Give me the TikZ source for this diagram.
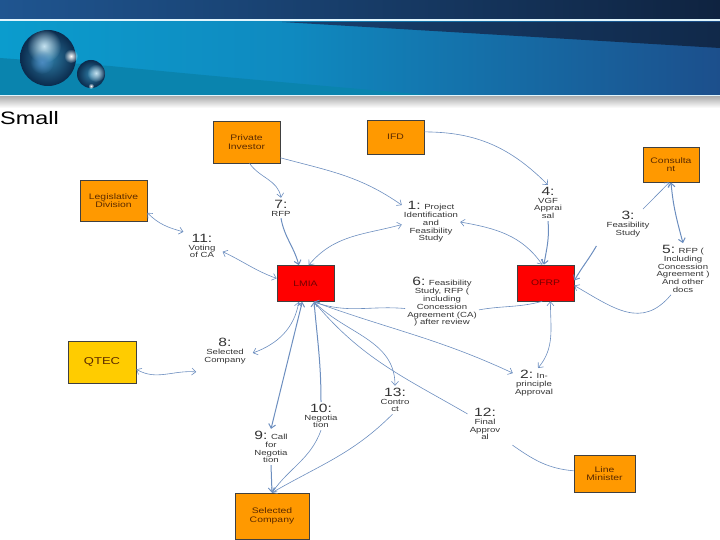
\documentclass[tikz,border=0pt]{standalone}
\usepackage{fontspec}
\setmainfont[FakeStretch=1.3]{Liberation Sans}
\usepackage{xcolor}
\usetikzlibrary{arrows.meta,fadings}
\definecolor{linkblue}{HTML}{6C8EBF}
\definecolor{boxorange}{HTML}{FF9900}
\definecolor{boxyellow}{HTML}{FFCC00}
\definecolor{boxred}{HTML}{FF0000}
\definecolor{inkbrown}{HTML}{5A2A00}
\definecolor{topleft}{HTML}{1F5590}
\definecolor{topright}{HTML}{0F2340}
\definecolor{bandleft}{HTML}{0B9CCD}
\definecolor{bandmid}{HTML}{0F8AC0}
\definecolor{bandright}{HTML}{1C4F8C}
\definecolor{wedgeblue}{HTML}{17406F}
\definecolor{swooshblue}{HTML}{0A84AE}
\definecolor{balldark}{HTML}{0A2A4C}
\definecolor{ballmid}{HTML}{2F7FA8}
\definecolor{balllight}{HTML}{C4E2F0}
\tikzfading[name=softglow,inner color=transparent!0,outer color=transparent!100]

\begin{document}
\begin{tikzpicture}[x=1pt,y=1pt,
    every node/.style={font=\fontsize{7.4}{7.8}\selectfont},
    actor/.style={draw=black!75,line width=.7pt,fill=boxorange,align=center,inner sep=1pt,text=inkbrown,font=\fontsize{8}{8.4}\selectfont},
    office/.style={actor,fill=boxred,text=red!45!black},
    step label/.style={align=center,inner sep=2pt,text=black!80},
    link/.style={draw=linkblue,line width=.6pt,-{Straight Barb[length=4pt,width=7pt]}},
    twoway/.style={link,{Straight Barb[length=4pt,width=7pt]}-{Straight Barb[length=4pt,width=7pt]}},
    plain link/.style={draw=linkblue,line width=.6pt},
    heavy/.style={line width=1pt},
    glow/.style={path fading=softglow}]
  \useasboundingbox (0,0) rectangle (720,-540);
  % page header
  \shade[left color=topleft,right color=topright] (0,0) rectangle (720,-19);
  \fill[cyan!12!white] (0,-19) rectangle (720,-22);
  \shade[left color=bandleft,right color=bandmid] (0,-22) rectangle (290,-95);
  \shade[left color=bandmid,right color=bandright] (290,-22) rectangle (720,-95);
  \shade[left color=wedgeblue,right color=topright!80!wedgeblue] (282,-22) -- (720,-22) -- (720,-48) -- cycle;
  \fill[swooshblue] (0,-58) -- (110,-66) .. controls (230,-78) and (350,-88) .. (427,-95) -- (0,-95) -- cycle;
  \fill[cyan!12!white] (0,-95) rectangle (720,-97);
  \shade[top color=black!30,bottom color=white] (0,-97) rectangle (720,-108);
  % spheres
  \shade[inner color=ballmid,outer color=balldark] (48,-58) circle (28);
  \fill[balllight,glow] (44,-46) circle (17);
  \fill[teal!70!blue!70,glow] (42,-62) circle (12);
  \fill[white,glow] (71,-56) circle (7);
  \shade[inner color=ballmid,outer color=balldark] (91,-74) circle (14);
  \fill[balllight,glow] (96,-73) circle (9);
  \fill[white,glow] (91,-86) circle (3);
  % title
  \node[anchor=west,inner sep=0pt,font=\fontsize{18}{19}\selectfont] (title) at (0,-118) {Small};
  % boxes
  \node[actor,minimum width=67pt,minimum height=42pt] (investor) at (246.5,-142) {Private\\Investor};
  \node[actor,minimum width=57pt,minimum height=34pt] (ifd) at (395.5,-137) {IFD};
  \node[actor,minimum width=56pt,minimum height=35pt] (consultant) at (671,-164.5) {Consulta\\nt};
  \node[actor,minimum width=67pt,minimum height=41pt] (legislative) at (113.5,-200.5) {Legislative\\Division};
  \node[office,minimum width=57pt,minimum height=36pt] (lmia) at (305.5,-283.5) {LMIA};
  \node[office,minimum width=57pt,minimum height=36pt] (ofrp) at (545.5,-283) {OFRP};
  \node[actor,fill=boxyellow,minimum width=68pt,minimum height=42pt,font=\fontsize{10}{11}\selectfont] (qtec) at (102,-362) {QTEC};
  \node[actor,minimum width=74pt,minimum height=46pt] (selected) at (272,-516) {Selected\\Company};
  \node[actor,minimum width=61pt,minimum height=37pt] (minister) at (604.5,-473.5) {Line\\Minister};
  % numbered steps
  \node[step label] (stepone) at (431,-222) {{\large 1:} Project\\Identification\\and\\Feasibility\\Study};
  \node[step label] (steptwo) at (534,-383) {{\large 2:} In-\\principle\\Approval};
  \node[step label] (stepthree) at (628,-224) {{\large 3:}\\Feasibility\\Study};
  \node[step label] (stepfour) at (548,-203) {{\large 4:}\\VGF\\Apprai\\sal};
  \node[step label] (stepfive) at (683,-269) {{\large 5:} RFP (\\Including\\Concession\\Agreement )\\And other\\docs};
  \node[step label] (stepsix) at (442,-302) {{\large 6:} Feasibility\\Study, RFP (\\including\\Concession\\Agreement (CA)\\) after review};
  \node[step label] (stepseven) at (281,-208) {{\large 7:}\\RFP};
  \node[step label] (stepeight) at (225,-351) {{\large 8:}\\Selected\\Company};
  \node[step label] (stepnine) at (271,-447) {{\large 9:} Call\\for\\Negotia\\tion};
  \node[step label] (stepten) at (321,-416) {{\large 10:}\\Negotia\\tion};
  \node[step label] (stepeleven) at (202,-246) {{\large 11:}\\Voting\\of CA};
  \node[step label] (steptwelve) at (485,-424) {{\large 12:}\\Final\\Approv\\al};
  \node[step label] (stepthirteen) at (395,-400) {{\large 13:}\\Contro\\ct};
  % links around LMIA
  \draw[link] (investor.-25) to[out=-15,in=145] (stepone.150);
  \draw[link] (investor.-82) to[out=-55,in=100] (stepseven.north);
  \draw[link,heavy] (stepseven.south) to[out=-80,in=105] (lmia.110);
  \draw[twoway] (lmia.80) to[out=50,in=195] (stepone.185);
  \draw[twoway] (legislative.-20) to[out=-45,in=165] ([shift={(-3,0)}]stepeleven.north west);
  \draw[twoway] (lmia.170) to[out=160,in=-25] ([shift={(5,0)}]stepeleven.-20);
  \draw[twoway] (qtec.-12) to[out=-30,in=175] ([shift={(-6,-6)}]stepeight.south west);
  \draw[twoway] (lmia.-110) to[out=-100,in=20] ([shift={(5,0)}]stepeight.-5);
  \draw[twoway,heavy] (lmia.-100) to (stepnine.north);
  \draw[link,heavy] (stepnine.south) to (selected.north);
  \draw[link,heavy] (stepten.north) to[out=90,in=-85] (lmia.-65);
  \draw[link] (stepten.south) to[out=-110,in=55] (selected.north);
  \draw[link] (stepthirteen.-100) to[out=-135,in=30] (selected.north);
  \draw[twoway] (lmia.-65) to[out=-45,in=90] (stepthirteen.north);
  \draw[link] (steptwelve.150) to[out=150,in=-50] (lmia.-65);
  \draw[plain link] ([shift={(10,-3)}]steptwelve.south east) to[out=-35,in=175] (minister.175);
  \draw[twoway] (lmia.-65) to[out=-20,in=155] (steptwo.155);
  \draw[link] (stepsix.-170) to[out=175,in=-20] (lmia.-65);
  % links around OFRP
  \draw[plain link] (stepsix.-12) to[out=10,in=-165] (ofrp.-100);
  \draw[twoway] (ofrp.-75) to[out=-90,in=50] (steptwo.75);
  \draw[twoway] (stepone.0) to[out=-10,in=125] (ofrp.100);
  \draw[link] (ifd.10) to[out=0,in=135] (stepfour.north);
  \draw[link,heavy] (stepfour.south) to[out=-85,in=80] (ofrp.95);
  \draw[link] (stepthree.45) to[out=45,in=-135] (consultant.-95);
  \draw[twoway,heavy] (consultant.-90) to[out=-85,in=105] (stepfive.north);
  \draw[link,heavy] ([shift={(-8,-7)}]stepthree.south west) to[out=-120,in=60] (ofrp.5);
  \draw[link] (stepfive.-115) to[out=-130,in=-30,looseness=1.2] (ofrp.-5);
\end{tikzpicture}
\end{document}
